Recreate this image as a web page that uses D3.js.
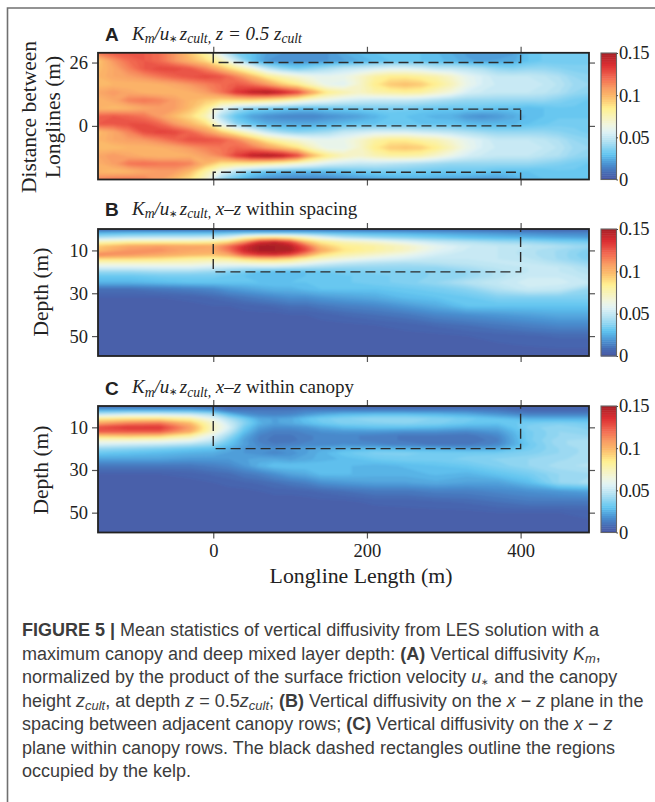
<!DOCTYPE html>
<html>
<head>
<meta charset="utf-8">
<script src="https://cdn.jsdelivr.net/npm/d3@7"></script>
<style>
body { margin: 0; background: #fff; }
svg { display: block; }
text { font-family: "Liberation Serif", serif; fill: #222; }
</style>
</head>
<body>
<svg width="655" height="802"></svg>
<script>
// values
var xA = [-150,-130,-110,-90,-70,-50,-30,-10,10,30,50,70,90,110,130,150,170,190,210,230,250,270,290,310,330,350,370,390,410,430,450,470,490];
var yA = [30,26.75,23.5,20.25,17,13.75,10.5,7.25,4,0.75,-2.5,-5.75,-9,-12.25,-15.5,-18.75,-22];
var kmA = [
[.118,.125,.127,.125,.12,.11,.095,.08,.055,.035,.03,.022,.02,.018,.018,.02,.025,.028,.03,.03,.03,.03,.028,.025,.022,.02,.02,.022,.03,.033,.033,.034,.034],
[.095,.11,.12,.125,.12,.11,.10,.09,.075,.05,.03,.02,.018,.018,.018,.02,.022,.025,.028,.03,.03,.03,.028,.027,.023,.022,.023,.024,.03,.033,.033,.034,.034],
[.098,.105,.115,.125,.13,.13,.125,.115,.10,.085,.07,.05,.04,.035,.04,.045,.05,.052,.055,.058,.058,.055,.05,.05,.048,.045,.04,.038,.04,.04,.038,.036,.036],
[.10,.105,.108,.112,.118,.123,.127,.13,.127,.115,.10,.085,.075,.068,.062,.06,.062,.07,.08,.085,.085,.082,.078,.07,.06,.055,.05,.05,.05,.048,.045,.04,.038],
[.098,.10,.10,.10,.102,.105,.11,.115,.12,.125,.12,.11,.095,.085,.072,.06,.058,.07,.085,.095,.098,.095,.085,.075,.062,.055,.052,.052,.052,.05,.047,.042,.04],
[.105,.11,.105,.102,.10,.10,.102,.108,.118,.135,.145,.15,.142,.13,.105,.085,.078,.072,.078,.08,.082,.08,.072,.065,.055,.052,.05,.05,.05,.048,.045,.04,.038],
[.10,.105,.115,.118,.115,.108,.10,.095,.09,.09,.09,.085,.08,.072,.065,.06,.055,.052,.05,.05,.05,.048,.045,.042,.04,.04,.04,.04,.04,.04,.037,.034,.032],
[.10,.098,.10,.105,.108,.108,.098,.085,.06,.045,.037,.035,.032,.03,.03,.032,.033,.034,.035,.035,.034,.033,.032,.032,.032,.032,.03,.03,.028,.03,.032,.032,.03],
[.122,.125,.122,.118,.108,.098,.09,.075,.045,.03,.022,.018,.016,.015,.015,.018,.02,.022,.026,.03,.03,.028,.026,.025,.02,.018,.02,.024,.028,.03,.032,.032,.032],
[.125,.125,.128,.128,.122,.11,.10,.09,.06,.038,.03,.025,.024,.024,.024,.026,.028,.03,.03,.03,.03,.03,.03,.03,.028,.027,.027,.027,.03,.032,.034,.034,.034],
[.098,.105,.115,.128,.132,.13,.122,.11,.095,.08,.065,.05,.042,.038,.04,.043,.05,.052,.055,.055,.055,.052,.05,.048,.045,.042,.04,.04,.04,.04,.038,.036,.034],
[.10,.105,.108,.11,.115,.122,.128,.128,.125,.115,.10,.085,.075,.068,.062,.06,.062,.07,.08,.085,.085,.08,.076,.068,.06,.055,.05,.05,.05,.048,.045,.04,.038],
[.098,.098,.10,.10,.102,.105,.11,.115,.118,.122,.118,.108,.098,.088,.072,.06,.06,.07,.085,.094,.096,.094,.085,.074,.062,.055,.052,.052,.052,.05,.047,.042,.04],
[.105,.11,.105,.102,.10,.10,.102,.108,.115,.132,.145,.15,.145,.13,.10,.085,.075,.07,.076,.08,.08,.078,.07,.062,.055,.052,.05,.05,.05,.047,.045,.04,.038],
[.102,.108,.118,.12,.118,.118,.115,.10,.088,.085,.085,.08,.075,.068,.062,.055,.052,.05,.05,.048,.046,.044,.042,.04,.04,.04,.04,.04,.04,.038,.036,.034,.032],
[.10,.098,.10,.105,.108,.108,.098,.08,.06,.045,.035,.03,.028,.027,.027,.028,.03,.032,.034,.034,.034,.033,.032,.032,.032,.032,.03,.03,.03,.03,.032,.032,.03],
[.115,.118,.118,.115,.108,.098,.088,.07,.04,.03,.022,.018,.016,.015,.015,.016,.018,.02,.022,.024,.025,.025,.024,.023,.022,.02,.02,.024,.028,.03,.03,.03,.03]
];

var xBC = [-150,-110,-70,-30,0,20,40,60,80,100,120,140,170,210,250,290,330,370,410,450,490];
var depthB = [0,2,4,6,8,10,12,14,16,18,20,22,25,28,32,36,40,45,50,59.5];
var kmB = [
[.005,.005,.005,.006,.006,.006,.006,.006,.006,.006,.006,.006,.006,.006,.007,.008,.008,.007,.006,.006,.006],
[.028,.03,.03,.03,.03,.032,.034,.034,.034,.034,.033,.032,.03,.028,.026,.024,.022,.02,.018,.016,.016],
[.045,.048,.05,.05,.052,.058,.075,.085,.088,.082,.072,.06,.048,.042,.038,.034,.03,.028,.026,.024,.022],
[.075,.08,.08,.08,.082,.09,.11,.135,.142,.13,.10,.085,.075,.068,.058,.05,.046,.042,.04,.036,.034],
[.095,.105,.108,.105,.105,.12,.138,.15,.15,.146,.125,.098,.085,.08,.072,.06,.053,.05,.048,.045,.04],
[.098,.11,.112,.105,.104,.118,.14,.15,.15,.148,.13,.105,.088,.08,.072,.058,.052,.05,.046,.042,.036],
[.115,.11,.105,.10,.098,.105,.125,.135,.138,.13,.11,.09,.078,.07,.062,.054,.05,.05,.046,.042,.034],
[.09,.09,.088,.082,.08,.082,.09,.095,.096,.09,.08,.072,.065,.058,.054,.05,.05,.05,.048,.042,.036],
[.07,.07,.07,.07,.066,.066,.068,.07,.07,.068,.062,.056,.05,.046,.044,.046,.048,.05,.05,.046,.04],
[.055,.055,.056,.056,.052,.05,.048,.048,.048,.046,.044,.042,.04,.04,.04,.04,.044,.048,.05,.05,.044],
[.04,.04,.042,.042,.04,.036,.034,.03,.028,.028,.03,.032,.034,.036,.036,.038,.04,.046,.05,.05,.046],
[.032,.032,.034,.034,.034,.032,.03,.028,.028,.028,.03,.03,.032,.034,.036,.038,.04,.046,.052,.052,.048],
[.026,.026,.028,.03,.03,.03,.03,.03,.03,.03,.03,.03,.032,.034,.036,.04,.046,.05,.054,.054,.05],
[.01,.01,.012,.014,.016,.02,.022,.024,.026,.026,.028,.03,.03,.03,.032,.034,.038,.046,.052,.05,.04],
[.005,.005,.005,.006,.008,.01,.012,.014,.016,.018,.018,.02,.022,.024,.028,.03,.032,.036,.036,.036,.036],
[.003,.003,.004,.004,.005,.005,.006,.007,.008,.01,.01,.012,.014,.016,.02,.024,.03,.03,.03,.03,.03],
[.003,.003,.003,.003,.003,.003,.004,.004,.004,.005,.005,.006,.008,.01,.012,.016,.018,.02,.022,.024,.024],
[.003,.003,.003,.003,.003,.003,.003,.003,.003,.003,.003,.004,.004,.005,.006,.008,.01,.012,.014,.016,.016],
[.003,.003,.003,.003,.003,.003,.003,.003,.003,.003,.003,.003,.003,.003,.004,.004,.005,.006,.007,.008,.008],
[.003,.003,.003,.003,.003,.003,.003,.003,.003,.003,.003,.003,.003,.003,.003,.003,.003,.003,.003,.003,.003]
];

var depthC = [0,2,4,6,8,10,12,14,16,18,20,22,25,28,32,36,40,45,50,59.3];
var kmC = [
[.008,.008,.008,.008,.008,.006,.005,.005,.005,.005,.005,.005,.005,.005,.005,.005,.005,.005,.005,.005,.005],
[.025,.025,.025,.025,.02,.012,.012,.012,.012,.012,.014,.014,.014,.014,.014,.014,.014,.012,.008,.008,.008],
[.05,.055,.055,.052,.045,.03,.02,.016,.015,.016,.02,.024,.028,.03,.03,.028,.025,.02,.015,.015,.015],
[.085,.088,.088,.08,.06,.045,.034,.024,.022,.024,.03,.034,.037,.04,.04,.037,.034,.03,.026,.026,.026],
[.105,.115,.118,.098,.07,.052,.038,.026,.022,.024,.028,.032,.036,.037,.038,.036,.032,.03,.034,.036,.034],
[.128,.135,.135,.108,.072,.056,.034,.022,.018,.018,.02,.024,.028,.03,.03,.028,.025,.025,.036,.04,.036],
[.125,.125,.125,.103,.07,.05,.03,.018,.014,.014,.016,.018,.02,.02,.018,.018,.016,.02,.034,.04,.038],
[.095,.098,.095,.08,.058,.042,.025,.015,.012,.012,.014,.016,.016,.014,.012,.012,.011,.016,.034,.04,.04],
[.07,.07,.068,.062,.05,.035,.022,.014,.011,.011,.014,.016,.016,.014,.012,.01,.01,.014,.034,.042,.044],
[.055,.052,.05,.045,.04,.03,.022,.016,.013,.014,.016,.016,.018,.016,.014,.012,.012,.016,.032,.042,.044],
[.04,.038,.035,.032,.03,.025,.02,.018,.018,.02,.022,.024,.026,.028,.026,.025,.022,.024,.034,.04,.044],
[.032,.03,.028,.026,.025,.022,.02,.018,.016,.018,.022,.026,.032,.036,.036,.034,.034,.034,.036,.04,.044],
[.022,.022,.022,.02,.02,.02,.022,.024,.024,.022,.024,.026,.028,.032,.034,.034,.036,.038,.04,.042,.044],
[.012,.012,.012,.012,.014,.016,.02,.026,.03,.03,.03,.03,.028,.026,.028,.03,.032,.036,.04,.044,.046],
[.005,.005,.005,.006,.008,.009,.012,.014,.018,.022,.024,.028,.028,.026,.026,.028,.026,.03,.034,.04,.042],
[.003,.003,.004,.004,.005,.006,.007,.008,.01,.012,.014,.018,.02,.022,.022,.024,.022,.022,.028,.04,.044],
[.003,.003,.003,.003,.003,.004,.004,.005,.006,.006,.007,.008,.01,.012,.012,.014,.014,.016,.018,.02,.022],
[.003,.003,.003,.003,.003,.003,.003,.003,.003,.003,.003,.004,.004,.006,.006,.007,.008,.01,.012,.012,.012],
[.003,.003,.003,.003,.003,.003,.003,.003,.003,.003,.003,.003,.003,.003,.004,.004,.004,.005,.005,.005,.006],
[.003,.003,.003,.003,.003,.003,.003,.003,.003,.003,.003,.003,.003,.003,.003,.003,.003,.003,.003,.003,.003]
];

var colorVals = [0,.003,.008,.018,.03,.045,.057,.065,.085,.10,.108,.12,.136,.15];
var colorHex = ['#40509f','#4a5ea9','#4669b2','#4a90d0','#60c5f0','#b0e0f2','#dff2f5','#f0f5e0','#fff090','#fbb567','#f9a066','#f36d52','#dc2f33','#a81e25'];
var xTicks = [0,200,400];
var yTicksA = [0,26];
var yTicksBC = [10,30,50];
var cbTicks = [0,.05,.1,.15];
var cbLabels = ['0','0.05','0.1','0.15'];

var svg = d3.select('svg');
var color = d3.scaleLinear().domain(colorVals).range(colorHex).clamp(true);
var levels = d3.range(0, 0.1525, 0.0025);
var x = d3.scaleLinear().domain([-150,489]).range([98,589]);

// grey page frame
svg.append('path').attr('d','M7.5,802V8H655').attr('fill','none').attr('stroke','#707070').attr('stroke-width',1.6);

var defs = svg.append('defs');
defs.append('filter').attr('id','soft').attr('x','-5%').attr('y','-5%').attr('width','110%').attr('height','110%')
  .append('feGaussianBlur').attr('stdDeviation',0.9);

function heat(id, xs, ys, rows, y) {
  var top = y.range()[1], bottom = y.range()[0];
  defs.append('clipPath').attr('id',id).append('rect')
    .attr('x',98).attr('y',top).attr('width',491).attr('height',bottom-top);
  // contour coordinates run in grid cells, the scales carry them to metres
  var xi = d3.scaleLinear().domain(d3.range(xs.length)).range(xs);
  var yi = d3.scaleLinear().domain(d3.range(ys.length)).range(ys);
  var proj = d3.geoTransform({point: function(a,b) {
    this.stream.point(x(xi(a-0.5)), y(yi(b-0.5)));
  }});
  var path = d3.geoPath(proj);
  var cs = d3.contours().size([xs.length, ys.length]).thresholds(levels)(rows.flat());
  svg.append('g').attr('clip-path','url(#'+id+')')
    .append('g').attr('filter','url(#soft)')
    .selectAll('path').data(cs).join('path')
    .attr('d',path).attr('fill',function(d){ return color(d.value+0.00125); });
}

function axes(y, yTicks, showX) {
  var top = y.range()[1], bottom = y.range()[0];
  var l = svg.append('g').attr('transform','translate(98,0)').call(d3.axisLeft(y).tickValues(yTicks).tickSize(6).tickPadding(4));
  var r = svg.append('g').attr('transform','translate(589,0)').call(d3.axisRight(y).tickValues(yTicks).tickSize(6).tickFormat(''));
  var t = svg.append('g').attr('transform','translate(0,'+top+')').call(d3.axisTop(x).tickValues(xTicks).tickSize(6).tickFormat(''));
  var b = svg.append('g').attr('transform','translate(0,'+bottom+')').call(d3.axisBottom(x).tickValues(xTicks).tickSize(6).tickPadding(5));
  if (!showX) b.selectAll('text').remove();
  [l,r,t,b].forEach(function(g){
    g.select('.domain').remove();
    g.selectAll('line').attr('stroke','#555').attr('stroke-width',1.2);
    g.selectAll('text').attr('font-family','"Liberation Serif", serif').attr('font-size',18.5).attr('fill','#222');
  });
  svg.append('rect').attr('x',98).attr('y',top).attr('width',491).attr('height',bottom-top)
    .attr('fill','none').attr('stroke','#222').attr('stroke-width',1.8);
}

function colorbar(top, bottom) {
  var cb = d3.scaleLinear().domain([0,.15]).range([bottom,top]);
  var step = 0.0025;
  svg.append('g').selectAll('rect').data(levels.slice(0,60)).join('rect')
    .attr('x',601).attr('width',15.5)
    .attr('y',function(d){ return cb(d+step); })
    .attr('height',function(d){ return cb(d)-cb(d+step)+0.5; })
    .attr('fill',function(d){ return color(d+step/2); });
  svg.append('rect').attr('x',601).attr('y',top).attr('width',15.5).attr('height',bottom-top)
    .attr('fill','none').attr('stroke','#666').attr('stroke-width',1.1);
  var g = svg.append('g').attr('transform','translate(616.5,0)')
    .call(d3.axisRight(cb).tickValues(cbTicks).tickSize(1.5).tickPadding(1).tickFormat(function(d,i){ return cbLabels[i]; }));
  g.select('.domain').remove();
  g.selectAll('line').attr('stroke','#444');
  g.selectAll('text').attr('font-family','"Liberation Serif", serif').attr('font-size',18.5).attr('letter-spacing','-0.6px').attr('fill','#222');
}

function dashed(d) {
  svg.append('path').attr('d',d).attr('fill','none').attr('stroke','#2a2a2a')
    .attr('stroke-width',1.4).attr('stroke-dasharray','10,5');
}

// panel A
var yScaleA = d3.scaleLinear().domain([-22,30]).range([179.5,52.8]);
heat('clipA', xA, yA, kmA, yScaleA);
[[26,30],[0,6.9],[-19,-22]].forEach(function(s){
  var l = d3.line()([[x(0),yScaleA(s[1])],[x(0),yScaleA(s[0])],[x(400),yScaleA(s[0])],[x(400),yScaleA(s[1])]]);
  dashed(l);
});
dashed(d3.line()([[x(0),yScaleA(6.9)],[x(400),yScaleA(6.9)]]));
axes(yScaleA, yTicksA, false);
colorbar(53,179.5);

// panel B
var yScaleB = d3.scaleLinear().domain([59.3,0]).range([356,229]);
heat('clipB', xBC, depthB, kmB, yScaleB);
dashed(d3.line()([[x(0),yScaleB(0)],[x(0),yScaleB(20)],[x(400),yScaleB(20)],[x(400),yScaleB(0)]]));
axes(yScaleB, yTicksBC, false);
colorbar(229,356);

// panel C
var yScaleC = d3.scaleLinear().domain([59.3,0]).range([532.5,406]);
heat('clipC', xBC, depthC, kmC, yScaleC);
dashed(d3.line()([[x(0),yScaleC(0)],[x(0),yScaleC(20)],[x(400),yScaleC(20)],[x(400),yScaleC(0)]]));
axes(yScaleC, yTicksBC, true);
colorbar(406,532.5);

// mixed runs of text: r roman, i italic, b bold, s italic subscript, a small asterisk
function rich(t, parts, size) {
  var back = 0;
  parts.forEach(function(p){
    var sp = t.append('tspan').text(p[0]);
    var drop = p[1]=='s' ? size*0.2 : p[1]=='a' ? size*0.12 : 0;
    sp.attr('dy', drop - back);
    back = drop;
    if (p[1]=='s') sp.attr('font-size',size*0.72);
    if (p[1]=='a') sp.attr('font-size',size*0.5);
    if (p[1]=='i' || p[1]=='s') sp.attr('font-style','italic');
    if (p[1]=='b') sp.attr('font-weight','bold');
  });
}

function panelTitle(letter, yb, parts) {
  svg.append('text').attr('x',105).attr('y',yb+1.5).text(letter)
    .attr('font-size',19).attr('font-weight','bold').style('font-family','"Liberation Sans", sans-serif');
  var t = svg.append('text').attr('x',132).attr('y',yb).attr('font-size',19);
  rich(t, parts, 19);
}
var kmHead = [['K','i'],['m','s'],['/u','i'],['∗ ','a'],['z','i'],['cult,','s'],[' ','r']];
panelTitle('A', 39.5, kmHead.concat([['z = 0.5 z','i'],['cult','s']]));
panelTitle('B', 214.5, kmHead.concat([['x–z','i'],[' within spacing','r']]));
panelTitle('C', 393, kmHead.concat([['x–z','i'],[' within canopy','r']]));

// axis titles
function vertical(cx, cy, s) {
  svg.append('text').attr('transform','translate('+cx+','+cy+') rotate(-90)')
    .attr('text-anchor','middle').attr('font-size',21.5).text(s);
}
vertical(36,117,'Distance between');
vertical(60,117,'Longlines (m)');
vertical(48,292,'Depth (m)');
vertical(48,470,'Depth (m)');
svg.append('text').attr('x',361).attr('y',583).attr('text-anchor','middle').attr('font-size',21.8).text('Longline Length (m)');

// caption
var captionLines = [
 [['FIGURE 5 |','b'],[' Mean statistics of vertical diffusivity from LES solution with a','r']],
 [['maximum canopy and deep mixed layer depth: ','r'],['(A)','b'],[' Vertical diffusivity ','r'],['K','i'],['m','s'],[',','r']],
 [['normalized by the product of the surface friction velocity ','r'],['u','i'],['∗','a'],[' and the canopy','r']],
 [['height ','r'],['z','i'],['cult','s'],[', at depth ','r'],['z','i'],[' = 0.5','r'],['z','i'],['cult','s'],['; ','r'],['(B)','b'],[' Vertical diffusivity on the ','r'],['x','i'],[' − ','r'],['z','i'],[' plane in the','r']],
 [['spacing between adjacent canopy rows; ','r'],['(C)','b'],[' Vertical diffusivity on the ','r'],['x','i'],[' − ','r'],['z','i']],
 [['plane within canopy rows. The black dashed rectangles outline the regions','r']],
 [['occupied by the kelp.','r']]
];
captionLines.forEach(function(parts,i){
  var t = svg.append('text').attr('x',22).attr('y',636+i*23.55)
    .attr('font-size',18).style('font-family','"Liberation Sans", sans-serif').style('fill','#3c3c3c');
  rich(t, parts, 18);
});
</script>
</body>
</html>
